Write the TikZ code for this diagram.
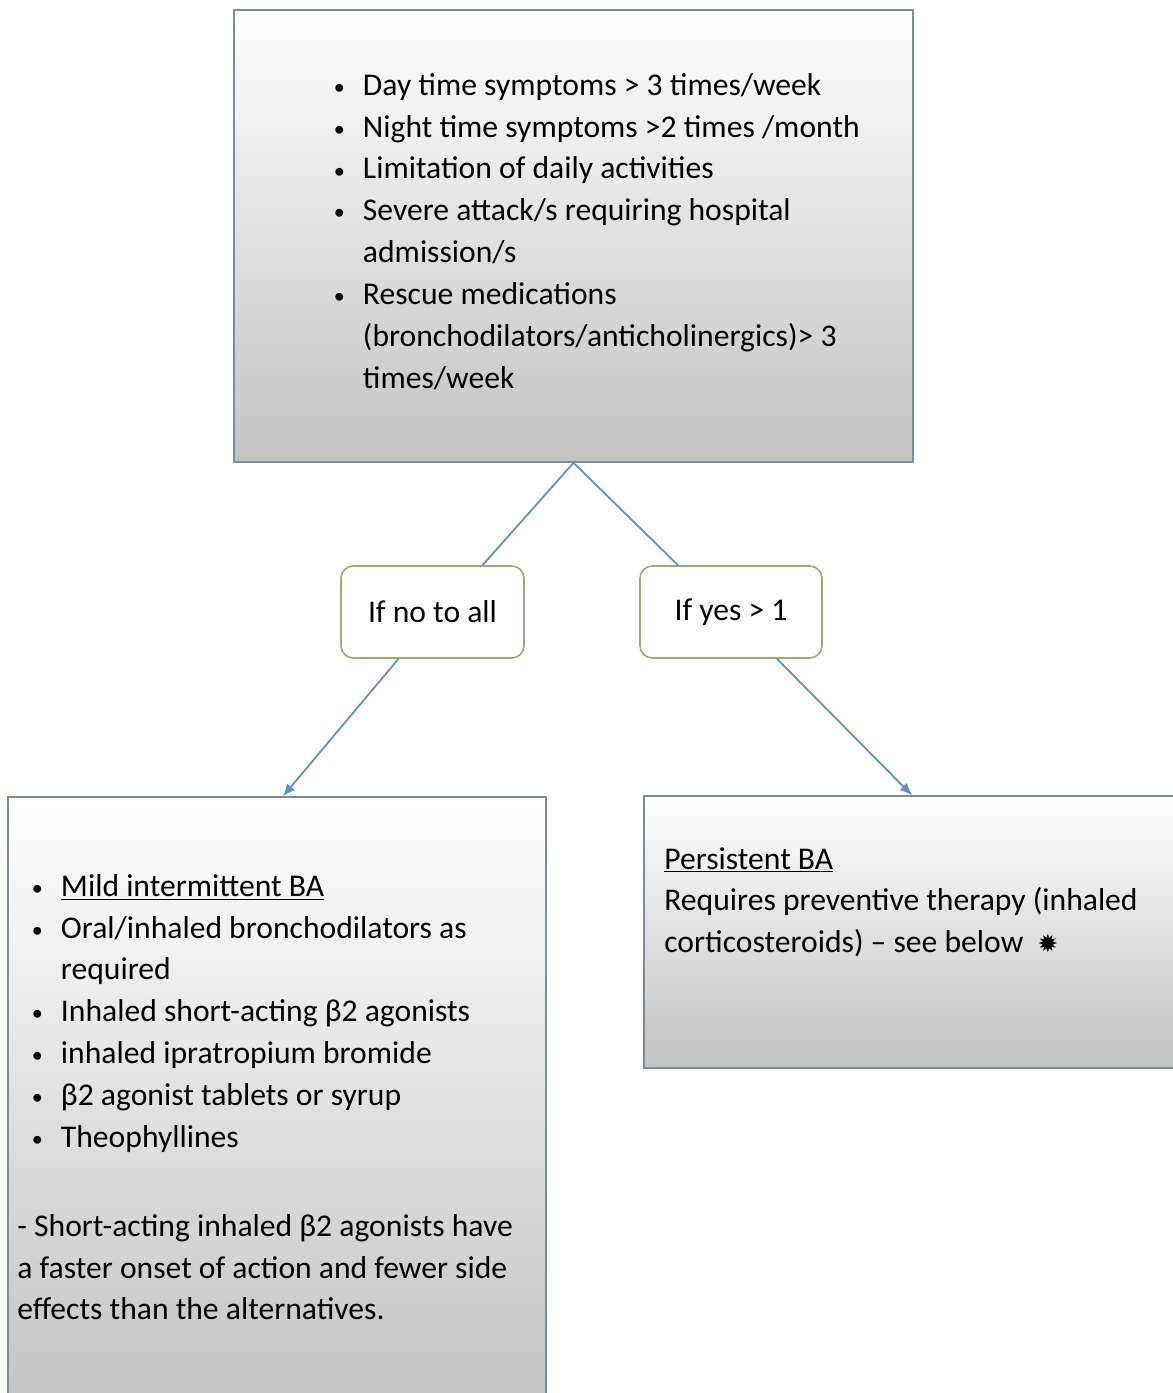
\documentclass[tikz,border=0pt]{standalone}
\usepackage{fontspec}
\setmainfont{Carlito}
\newfontfamily\symfont{DejaVu Sans}
\usetikzlibrary{calc,arrows.meta}
\tikzset{>={Latex[length=7pt,width=6pt]}}
\definecolor{frame}{RGB}{125,140,155}
\definecolor{linkblue}{RGB}{88,145,205}
\definecolor{choicegreen}{RGB}{150,175,110}
\def\px{0.02cm}
\tikzstyle{panel}=[draw=frame,line width=0.9pt,top color=white,middle color=black!4,bottom color=black!24,inner sep=0pt]
\tikzstyle{choice}=[draw=choicegreen,line width=0.9pt,fill=white,rounded corners=7pt,inner sep=0pt]
\tikzstyle{link}=[draw=linkblue,line width=1pt]
\tikzstyle{txt}=[anchor=north west,inner sep=0pt,align=left,font=\fontsize{18pt}{23.8pt}\selectfont]
\newcommand{\bl}{\makebox[18pt][l]{\hspace{1.5pt}\raisebox{0.5pt}{\scalebox{0.7}{\textbullet}}}}
\newcommand{\nb}{\hspace*{18pt}}

\begin{document}
\begin{tikzpicture}[x=0.02cm,y=-0.02cm]
  \useasboundingbox (0,0) rectangle (1173,1393);
  \clip (0,0) rectangle (1173,1393);

  % CRITERIA
  \node[panel,minimum width=679*\px,minimum height=452*\px] (crit) at (573.5,236) {};
  \node[txt] (critlist) at (331,73) {%
    \bl Day time symptoms > 3 times/week\\
    \bl Night time symptoms >2 times /month\\
    \bl Limitation of daily activities\\
    \bl Severe attack/s requiring hospital\\
    \nb admission/s\\
    \bl Rescue medications\\
    \nb (bronchodilators/anticholinergics)> 3\\
    \nb times/week};

  % CHOICES
  \node[choice,minimum width=183*\px,minimum height=92*\px,
        font=\fontsize{18pt}{23.8pt}\selectfont] (no) at (432.5,612) {If no to all};
  \node[choice,minimum width=182*\px,minimum height=92*\px,
        font=\fontsize{18pt}{23.8pt}\selectfont] (yes) at (731,612) {If yes > 1};

  % MILD
  \node[panel,minimum width=538*\px,minimum height=623*\px] (mild) at (277,1108.5) {};
  \node[txt] (mildlist) at (29,874) {%
    \bl \underline{Mild intermittent BA}\\
    \bl Oral/inhaled bronchodilators as\\
    \nb required\\
    \bl Inhaled short-acting β2 agonists\\
    \bl inhaled ipratropium bromide\\
    \bl β2 agonist tablets or syrup\\
    \bl Theophyllines};
  \node[txt] (mildnote) at (17,1214) {%
    - Short-acting inhaled β2 agonists have\\
    a faster onset of action and fewer side\\
    effects than the alternatives.};

  % PERSISTENT
  \node[panel,minimum width=536*\px,minimum height=272*\px] (pers) at (912,932) {};
  \node[txt] (perstext) at (664,847) {%
    \underline{Persistent BA}\\
    Requires preventive therapy (inhaled\\
    corticosteroids) – see below \ {\symfont\fontsize{14pt}{14pt}\selectfont ✹}};

  % LINKS
  \draw[link] (crit.south) -- ($(no.north)+(50,0)$);
  \draw[link] (crit.south) -- ($(yes.north)+(-53,0)$);
  \draw[link,->] ($(no.south)+(-34,0)$) -- ($(mild.north)+(6,0)$);
  \draw[link,->] ($(yes.south)+(46,0)$) -- (pers.north);

\end{tikzpicture}
\end{document}
